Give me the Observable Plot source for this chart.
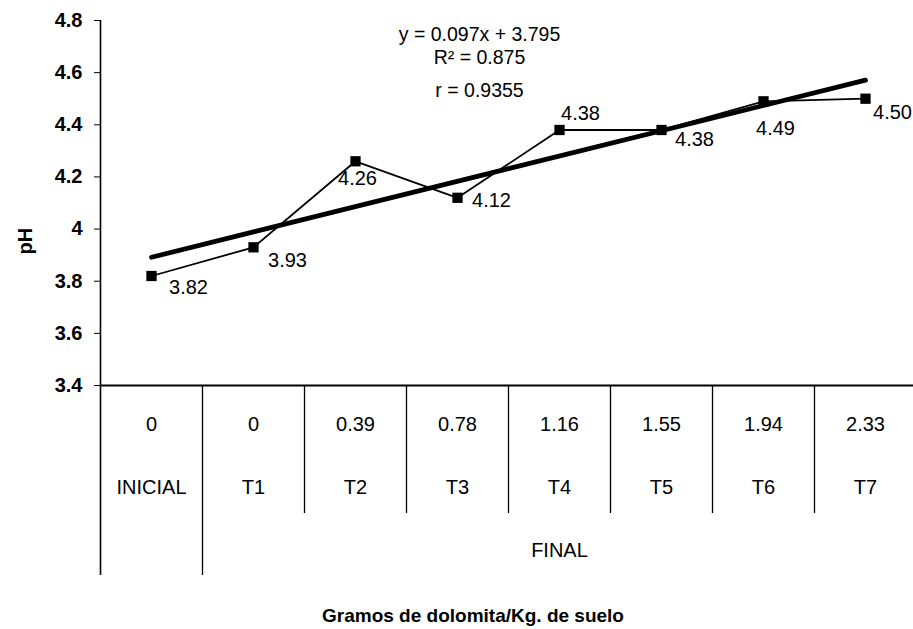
<!DOCTYPE html>
<html>
<head>
<meta charset="utf-8">
<script src="https://cdn.jsdelivr.net/npm/d3@7"></script>
<script src="https://cdn.jsdelivr.net/npm/@observablehq/plot@0.6"></script>
<style>
  body { margin: 0; background: #fff; }
  #chart svg { display: block; }
</style>
</head>
<body>
<div id="chart"></div>
<script>
// Treatments (initial soil sample and the seven final treatments)
const treatments = ["INICIAL", "T1", "T2", "T3", "T4", "T5", "T6", "T7"];
// Dolomite dose per treatment, g/kg of soil
const doses = ["0", "0", "0.39", "0.78", "1.16", "1.55", "1.94", "2.33"];
// Measured soil pH
const phValues = [3.82, 3.93, 4.26, 4.12, 4.38, 4.38, 4.49, 4.50];
// pH axis ticks
const yTicks = [3.4, 3.6, 3.8, 4.0, 4.2, 4.4, 4.6, 4.8];
// Linear trend fitted over treatment order (1..8)
const trendSlope = 0.097;
const trendIntercept = 3.795;
const rSquared = 0.875;
const rValue = 0.9355;
const groupLabel = "FINAL";
const yTitle = "pH";
const xTitle = "Gramos de dolomita/Kg. de suelo";

const FONT = "'Liberation Sans', Arial, sans-serif";
const FS = 20;

const idx = (d, i) => i + 1;
const n = treatments.length;
const trendX = [1, n];

// Per-point label offsets (dx, dy) so labels sit clear of the lines
const labelOffsets = [
  [37, 12], [34, 13], [2, 17], [34, 3], [21, -16], [33, 10], [12, 27], [27, 14]
];

const valueLabels = phValues.map((v, i) =>
  Plot.text([v], {
    x: () => i + 1,
    y: d => d,
    text: d => d.toFixed(2),
    dx: labelOffsets[i][0],
    dy: labelOffsets[i][1],
    fontSize: FS
  })
);

const statsLines = [
  { text: `y = ${trendSlope}x + ${trendIntercept}`, dy: 7 },
  { text: `R² = ${rSquared}`, dy: 30 },
  { text: `r = ${rValue}`, dy: 63 }
];

const chart = Plot.plot({
  width: 913,
  height: 629,
  marginLeft: 100,
  marginRight: 0,
  marginTop: 20,
  marginBottom: 54,
  style: { fontFamily: FONT, fontSize: FS + "px", color: "#000", background: "#fff" },
  x: { domain: [0.5, n + 0.5], range: [100, 916], axis: null },
  y: { domain: [3.4, 4.8], range: [385, 20], axis: null },
  marks: [
    // pH axis with ticks
    Plot.axisY(yTicks, {
      tickSize: 6,
      tickPadding: 12,
      tickFormat: d3.format("~g"),
      fontSize: FS,
      fontWeight: "bold",
      label: null
    }),
    // baseline of the plot area
    Plot.ruleY([3.4], { stroke: "#000", strokeWidth: 2 }),
    // left border running through the table
    Plot.ruleX([0.5], { stroke: "#000", strokeWidth: 1.6 }),
    // separator between the initial and final groups
    Plot.ruleX([1.5], { stroke: "#000", strokeWidth: 1.3, insetTop: 365 }),
    // separators between final treatments
    Plot.ruleX(d3.range(2.5, n, 1), { stroke: "#000", strokeWidth: 1.3, insetTop: 365, insetBottom: 62 }),
    // table rows: dose and treatment name
    Plot.text(doses, { x: idx, y: () => 3.4, text: d => d, dy: 39, fontSize: FS }),
    Plot.text(treatments, { x: idx, y: () => 3.4, text: d => d, dy: 102, fontSize: FS }),
    Plot.text([groupLabel], {
      x: () => d3.mean(d3.range(2, n + 1)),
      y: () => 3.4,
      text: d => d,
      dy: 165,
      fontSize: FS
    }),
    // measured pH
    Plot.line(phValues, { x: idx, y: d => d, stroke: "#000", strokeWidth: 1.8 }),
    Plot.dot(phValues, { x: idx, y: d => d, symbol: "square", r: 5.8, fill: "#000", stroke: "none" }),
    // linear trend
    Plot.line(trendX, {
      x: d => d,
      y: d => trendIntercept + trendSlope * d,
      stroke: "#000",
      strokeWidth: 4.8
    }),
    ...valueLabels,
    // regression statistics
    ...statsLines.map(s =>
      Plot.text([s.text], { frameAnchor: "top-left", textAnchor: "middle", dx: 379, dy: s.dy, text: d => d, fontSize: 19.5 })
    ),
    // axis titles
    Plot.text([yTitle], { frameAnchor: "top-left", dx: -83, dy: 234, rotate: -90, text: d => d, fontWeight: "bold", fontSize: FS }),
    Plot.text([xTitle], { frameAnchor: "bottom", dx: -34, dy: 46, text: d => d, fontWeight: "bold", fontSize: 19 })
  ]
});

document.getElementById("chart").appendChild(chart);
</script>
</body>
</html>
